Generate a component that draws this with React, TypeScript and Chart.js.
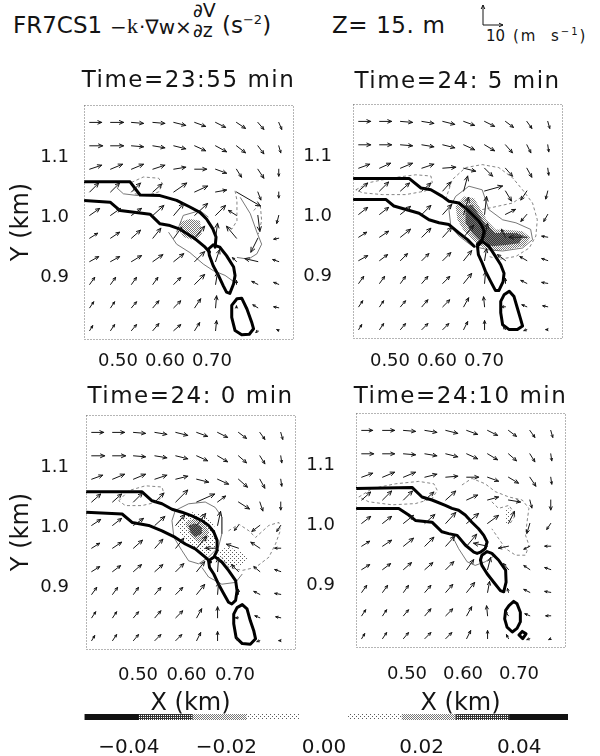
import React, { useEffect, useRef } from "react";
import { Chart, registerables } from "chart.js";

Chart.register(...registerables);

type Pt = [number, number];
type Tone = "light" | "mid" | "dark" | "black";

const SANS = '"DejaVu Sans", sans-serif';
const SERIF = '"Liberation Serif", "DejaVu Serif", serif';
const INK = "#141414";

// plotted domain (km), shared by the four panels
const X_RANGE: Pt = [0.43, 0.87];
const Y_RANGE: Pt = [0.797, 1.187];
const X_TICKS = [0.5, 0.6, 0.7];
const Y_TICKS = [0.9, 1.0, 1.1];

// wind vector grid (km), vectors start at these points
const GRID_X = [0.442, 0.486, 0.53, 0.575, 0.619, 0.663, 0.707, 0.751, 0.796, 0.84];
const GRID_Y = [1.158, 1.119, 1.08, 1.042, 1.003, 0.965, 0.926, 0.888, 0.849, 0.811];

// reference vector (m s-1) and vector drawing scale (px per m s-1)
const KEY_SPEED = 10;
const PX_PER_MS = 2;

// colour bar
const CBAR_EDGES = [-0.049, -0.038, -0.027, -0.016, -0.005, 0.005, 0.016, 0.027, 0.038, 0.05];
const CBAR_TONES: (Tone | null)[] = ["black", "dark", "mid", "light", null, "light", "mid", "dark", "black"];
const CBAR_TICKS = [-0.04, -0.02, 0, 0.02, 0.04];

// ---------- Time = 23:55 min ----------
const U_2355 = [
  [6, 6.5, 6, 6, 6, 5.5, 5, 4.5, 3, 1.5],
  [6.5, 6.5, 6, 6, 6, 5.5, 5.5, 4.5, 3, 1],
  [6, 6, 6, 6, 6, 6, 5.5, 2.5, 3, 0],
  [4.5, 4.5, 4.5, 4.5, 6.5, 6.5, 5.5, 12, 1.5, 0],
  [5, 5, 5, 5.5, 5, 6.5, 5, -4, 1, -1],
  [4, 4.5, 4.5, 4, 4, 5, 1, -5, -3.5, -2.5],
  [4.5, 4.5, 5, 5, 5, 5, 2, -2, -6.5, -3],
  [2.5, 2.5, 2.5, 2.5, 3.5, 5, 1, 0, -3, -2.5],
  [2, 2, 2.5, 3, 3.5, 3, 0.5, 0, -2.5, -2.5],
  [1.5, 2, 2.5, 3, 3.5, 2.5, 0.5, 0, -1, -1],
];
const V_2355 = [
  [0, 0, -0.5, -0.5, -1.5, -2, -2.5, -3, -3.5, -3.5],
  [0, 0, -0.5, -1, -1.5, -2.5, -3, -3.5, -4, -3.5],
  [2, 2.5, 2.5, 2, 1, 0, -2, -4, -4.5, -3.5],
  [4.5, 4.5, 4.5, 4, 4.5, 3, 1, -7, -4, -3],
  [3.5, 3.5, 3.5, 5, 6, 6, 5, 2.5, -8, -4],
  [2.5, 3, 4, 5, 5.5, 6, 7.5, 6, -7, -0.5],
  [2.5, 2.5, 3, 3.5, 4, 5, 6, 2, 1.5, 1],
  [3.5, 3.5, 3.5, 3.5, 3.5, 5, 6, 2, 1.5, 1],
  [3, 3, 3, 3.5, 3.5, 4.5, 6, 1, 1.5, 0.5],
  [2.5, 3, 3, 3.5, 3, 4, 5, 0, -1, 0.5],
];
const THICK_2355_UPPER: Pt[] = [[0.43, 1.059], [0.527, 1.059], [0.548, 1.037], [0.59, 1.036], [0.625, 1.028], [0.653, 1.017], [0.674, 1.008], [0.688, 0.997], [0.701, 0.981], [0.708, 0.967], [0.706, 0.95]];
const THICK_2355_LOWER: Pt[] = [[0.43, 1.028], [0.485, 1.025], [0.506, 1.011], [0.569, 1.005], [0.59, 0.989], [0.611, 0.986], [0.632, 0.98], [0.664, 0.964], [0.685, 0.95], [0.694, 0.942]];
const THICK_2355_CELL: Pt[] = [[0.692, 0.947], [0.702, 0.954], [0.716, 0.95], [0.73, 0.936], [0.745, 0.917], [0.748, 0.903], [0.745, 0.889], [0.737, 0.873], [0.73, 0.875], [0.723, 0.886], [0.713, 0.903], [0.702, 0.919], [0.694, 0.936], [0.692, 0.947]];
const THICK_2355_ISLE: Pt[] = [[0.752, 0.864], [0.762, 0.865], [0.773, 0.847], [0.783, 0.825], [0.787, 0.814], [0.778, 0.805], [0.762, 0.804], [0.748, 0.811], [0.741, 0.833], [0.741, 0.853], [0.752, 0.864]];
const THIN_2355_A: Pt[] = [[0.499, 1.049], [0.513, 1.039], [0.544, 1.036]];
const THIN_2355_B: Pt[] = [[0.608, 0.975], [0.625, 0.955], [0.653, 0.941], [0.681, 0.922], [0.702, 0.911], [0.727, 0.903], [0.748, 0.891]];
const THIN_2355_C: Pt[] = [[0.625, 0.975], [0.639, 1.003], [0.674, 1.011], [0.692, 1.0]];
const THIN_2355_D: Pt[] = [[0.759, 1.033], [0.78, 1.006], [0.794, 0.975], [0.804, 0.955], [0.794, 0.939], [0.776, 0.93], [0.752, 0.933]];
const DASH_2355_A: Pt[] = [[0.53, 1.058], [0.555, 1.067], [0.587, 1.065], [0.596, 1.055], [0.587, 1.042], [0.562, 1.036], [0.537, 1.039], [0.53, 1.058]];
const DASH_2355_B: Pt[] = [[0.748, 1.044], [0.752, 1.028], [0.752, 0.994], [0.741, 0.98], [0.73, 0.983]];
const DASH_2355_C: Pt[] = [[0.787, 1.011], [0.801, 1.022], [0.804, 0.994], [0.797, 0.972]];
const SHADE_2355: Pt[] = [[0.632, 0.992], [0.653, 0.997], [0.674, 0.994], [0.678, 0.972], [0.664, 0.961], [0.639, 0.967], [0.632, 0.978], [0.632, 0.992]];

// ---------- Time = 24: 5 min ----------
const U_2405 = [
  [6, 6, 6, 6, 6, 5.5, 5, 4, 2.5, 1],
  [6, 6, 6, 6, 6, 5.5, 5, 3.5, 2, 0.5],
  [5.5, 5.5, 6, 6, 6.5, 6, 4, 3.5, 2.5, 0.5],
  [4.5, 4.5, 4.5, 4.5, 4, 2, 9, 3, -3, -1],
  [4.5, 4.5, 5, 4.5, 4.5, 2.5, 1, 5, -3, -2],
  [4, 4.5, 5, 4.5, 4.5, 5, 1.5, -2, -9, -3],
  [4.5, 4, 3.5, 3.5, 4, 4, 1, -4, -3.5, -3],
  [2.5, 2.5, 2.5, 3, 3.5, 4, 0.5, 0, -3, -3],
  [2, 2, 2.5, 3, 3.5, 2.5, -0.5, -2, -2.5, -2.5],
  [1.5, 2, 2.5, 3, 3, 2, 0, -1, -1.5, -1],
];
const V_2405 = [
  [0, 0, -0.5, -1, -1.5, -2, -2.5, -3, -3.5, -3.5],
  [0, 0, -0.5, -1, -1.5, -2.5, -3, -4, -4, -3.5],
  [2, 2.5, 2.5, 2, 0.5, -1.5, -4, -4, -4.5, -3.5],
  [4, 4.5, 4, 4, 4.5, 7.5, 2.5, -5, -4.5, -4],
  [3.5, 3.5, 4, 4.5, 5, 8.5, 9, 2.5, -3.5, -3.5],
  [2.5, 3, 4, 4.5, 5, 6, 7, 4, 0, 0.5],
  [2.5, 3, 3.5, 3.5, 4, 5, 6, 3, 2, 1],
  [3.5, 3.5, 3.5, 3.5, 3.5, 5, 6, 2.5, 1.5, 0.5],
  [3, 3, 3, 3.5, 3.5, 4.5, 5, 0, 1, 0.5],
  [2.5, 3, 3, 3, 3, 4, 4.5, 1.5, -0.5, 0],
];
const THICK_2405_UPPER: Pt[] = [[0.43, 1.063], [0.548, 1.063], [0.573, 1.047], [0.594, 1.044], [0.618, 1.033], [0.632, 1.025], [0.653, 1.022], [0.671, 1.011], [0.685, 1.0], [0.695, 0.992], [0.702, 0.983], [0.706, 0.975], [0.702, 0.961], [0.692, 0.953]];
const THICK_2405_LOWER: Pt[] = [[0.43, 1.028], [0.499, 1.028], [0.516, 1.017], [0.569, 1.005], [0.59, 0.994], [0.611, 0.989], [0.632, 0.986], [0.653, 0.972], [0.671, 0.961], [0.685, 0.95]];
const THICK_2405_CELL: Pt[] = [[0.692, 0.95], [0.702, 0.958], [0.716, 0.95], [0.73, 0.933], [0.741, 0.919], [0.748, 0.905], [0.746, 0.891], [0.737, 0.876], [0.73, 0.876], [0.72, 0.891], [0.709, 0.908], [0.702, 0.922], [0.694, 0.936], [0.692, 0.95]];
const THICK_2405_ISLE: Pt[] = [[0.748, 0.869], [0.759, 0.875], [0.769, 0.866], [0.776, 0.847], [0.783, 0.828], [0.787, 0.817], [0.776, 0.811], [0.759, 0.811], [0.745, 0.819], [0.741, 0.839], [0.741, 0.858], [0.748, 0.869]];
const THIN_2405_A: Pt[] = [[0.632, 1.011], [0.646, 1.033], [0.674, 1.05], [0.702, 1.044], [0.716, 1.011], [0.745, 0.994], [0.773, 0.989], [0.804, 0.978], [0.808, 0.961], [0.787, 0.947], [0.745, 0.942], [0.716, 0.944], [0.681, 0.95], [0.653, 0.967], [0.636, 0.983], [0.632, 1.011]];
const DASH_2405_A: Pt[] = [[0.436, 1.044], [0.464, 1.056], [0.513, 1.064], [0.562, 1.069], [0.594, 1.067], [0.597, 1.056], [0.583, 1.042], [0.541, 1.036], [0.492, 1.036], [0.45, 1.039], [0.436, 1.044]];
const DASH_2405_B: Pt[] = [[0.625, 1.028], [0.639, 1.061], [0.667, 1.081], [0.702, 1.086], [0.737, 1.081], [0.766, 1.064], [0.787, 1.044], [0.808, 1.022], [0.818, 0.994], [0.815, 0.967], [0.801, 0.947], [0.773, 0.933], [0.737, 0.928], [0.716, 0.933]];
const DASH_2405_C: Pt[] = [[0.702, 1.011], [0.737, 1.017], [0.766, 1.022], [0.787, 1.033]];
const SHADE_2405_OUTER: Pt[] = [[0.646, 1.017], [0.664, 1.033], [0.685, 1.03], [0.699, 1.011], [0.713, 0.992], [0.73, 0.978], [0.759, 0.977], [0.787, 0.975], [0.804, 0.964], [0.79, 0.95], [0.759, 0.945], [0.73, 0.942], [0.706, 0.947], [0.685, 0.958], [0.664, 0.975], [0.65, 0.994], [0.646, 1.017]];
const SHADE_2405_INNER: Pt[] = [[0.667, 1.017], [0.681, 1.019], [0.695, 1.003], [0.709, 0.986], [0.73, 0.972], [0.766, 0.972], [0.787, 0.967], [0.78, 0.955], [0.752, 0.952], [0.723, 0.95], [0.702, 0.955], [0.681, 0.972], [0.667, 0.989], [0.667, 1.017]];
const SHADE_2405_CORE_A: Pt[] = [[0.681, 1.0], [0.692, 1.003], [0.702, 0.989], [0.706, 0.975], [0.695, 0.972], [0.685, 0.983], [0.681, 1.0]];
const SHADE_2405_CORE_B: Pt[] = [[0.759, 0.969], [0.773, 0.972], [0.79, 0.967], [0.776, 0.96], [0.759, 0.961], [0.759, 0.969]];

// ---------- Time = 24: 0 min ----------
const U_2400 = [
  [6, 6, 6, 6, 6, 5.5, 5, 4, 2.5, 1],
  [6.5, 6.5, 6, 6, 6, 5.5, 5, 4, 2.5, 0.5],
  [5.5, 6, 6, 6, 6, 6, 5.5, 4.5, 2.5, 0.5],
  [4.5, 4.5, 4.5, 4.5, 6, 9, 4, 5.5, 1.5, 0],
  [4.5, 4.5, 5, 5, 4.5, 4.5, 1.5, -2, -4, -2],
  [4, 4.5, 4.5, 4, 4, 5, -6, -6, -4.5, -3],
  [4, 4, 4, 4, 4, 4, 0.5, -3.5, -3, -3],
  [2.5, 2.5, 2.5, 3, 3.5, 4, 0.5, 0, -3, -3],
  [2, 2, 2.5, 3, 3.5, 2.5, 0, -1.5, -2.5, -2.5],
  [1.5, 2, 2.5, 3, 3, 2, 0, -1, -1.5, -1],
];
const V_2400 = [
  [0, 0, -0.5, -1, -1.5, -2, -2.5, -3, -3.5, -3.5],
  [0, 0, -0.5, -1, -1.5, -2.5, -3, -3.5, -4, -3.5],
  [2, 2.5, 2.5, 2, 1.5, -1.5, -2.5, -4, -4.5, -3.5],
  [4, 4, 4.5, 4.5, 6, 4, 3, -3.5, -4.5, -4],
  [3, 3.5, 3.5, 4.5, 5.5, 6, 7, -2.5, -3, -3],
  [2.5, 3, 4, 4.5, 5, 6, 0, 2, 3, 0],
  [2.5, 3, 3.5, 3.5, 4, 5, 7, 3.5, 2.5, 1],
  [3.5, 3.5, 3.5, 3.5, 3.5, 5, 6, 2.5, 1.5, 0.5],
  [3, 3, 3, 3.5, 3.5, 4.5, 5.5, 0, 1, 0.5],
  [2.5, 3, 3, 3, 3, 4, 4.5, 1.5, -0.5, 0],
];
const THICK_2400_UPPER: Pt[] = [[0.43, 1.059], [0.548, 1.059], [0.569, 1.044], [0.59, 1.039], [0.611, 1.03], [0.632, 1.025], [0.653, 1.019], [0.674, 1.011], [0.688, 1.003], [0.699, 0.992], [0.706, 0.978], [0.706, 0.961], [0.701, 0.953]];
const THICK_2400_LOWER: Pt[] = [[0.43, 1.025], [0.506, 1.022], [0.527, 1.008], [0.562, 1.003], [0.59, 0.994], [0.618, 0.983], [0.639, 0.972], [0.66, 0.964], [0.681, 0.95], [0.692, 0.942]];
const THICK_2400_CELL: Pt[] = [[0.688, 0.944], [0.701, 0.951], [0.716, 0.942], [0.73, 0.928], [0.745, 0.911], [0.748, 0.894], [0.745, 0.878], [0.737, 0.872], [0.73, 0.875], [0.72, 0.889], [0.709, 0.905], [0.699, 0.922], [0.69, 0.933], [0.688, 0.944]];
const THICK_2400_ISLE: Pt[] = [[0.748, 0.866], [0.759, 0.871], [0.769, 0.864], [0.776, 0.844], [0.783, 0.828], [0.787, 0.814], [0.776, 0.805], [0.759, 0.806], [0.746, 0.816], [0.741, 0.839], [0.741, 0.855], [0.748, 0.866]];
const THIN_2400_A: Pt[] = [[0.611, 1.011], [0.618, 1.028], [0.646, 1.039], [0.681, 1.042], [0.702, 1.033], [0.716, 1.017], [0.716, 0.989], [0.709, 0.967], [0.688, 0.95], [0.667, 0.939], [0.646, 0.944], [0.632, 0.961], [0.615, 0.983], [0.611, 1.011]];
const THIN_2400_B: Pt[] = [[0.674, 0.933], [0.688, 0.917], [0.716, 0.905], [0.745, 0.908], [0.759, 0.922]];
const DASH_2400_A: Pt[] = [[0.499, 1.044], [0.52, 1.061], [0.555, 1.069], [0.59, 1.067], [0.594, 1.056], [0.58, 1.042], [0.548, 1.036], [0.513, 1.036], [0.499, 1.044]];
const DASH_2400_B: Pt[] = [[0.73, 0.994], [0.752, 1.005], [0.773, 0.994], [0.787, 0.983], [0.815, 1.003], [0.836, 1.008], [0.839, 0.994], [0.829, 0.972], [0.815, 0.95], [0.787, 0.933], [0.759, 0.928], [0.73, 0.933], [0.716, 0.95]];
const SHADE_2400_OUTER: Pt[] = [[0.622, 1.005], [0.632, 1.019], [0.653, 1.025], [0.678, 1.022], [0.699, 1.005], [0.706, 0.983], [0.702, 0.964], [0.688, 0.953], [0.667, 0.958], [0.646, 0.972], [0.629, 0.986], [0.622, 1.005]];
const SHADE_2400_INNER: Pt[] = [[0.639, 1.008], [0.657, 1.014], [0.678, 1.008], [0.688, 0.994], [0.685, 0.978], [0.667, 0.975], [0.65, 0.986], [0.639, 1.008]];
const SHADE_2400_CORE: Pt[] = [[0.646, 1.003], [0.66, 1.006], [0.674, 1.0], [0.674, 0.989], [0.66, 0.984], [0.65, 0.992], [0.646, 1.003]];
const SHADE_2400_EAST: Pt[] = [[0.706, 0.961], [0.73, 0.967], [0.759, 0.958], [0.773, 0.947], [0.759, 0.936], [0.734, 0.933], [0.716, 0.942], [0.706, 0.961]];

// ---------- Time = 24:10 min ----------
const U_2410 = [
  [5.5, 6, 6, 6, 6, 5.5, 5, 4, 2.5, 1],
  [6, 6, 6, 6, 6, 5.5, 5, 4, 2.5, 0.5],
  [5.5, 6, 6, 6, 6, 6, 5.5, 5, 3, 0.5],
  [4.5, 4.5, 4.5, 4.5, 5, 5.5, 5.5, 6, 1, 0],
  [4.5, 4.5, 5, 5, 5, 6, 5.5, 3, -1.5, -2],
  [4, 4.5, 5, 4.5, 4.5, 5, -7, -5, -3, -3],
  [4, 4, 4, 4, 4, 3.5, 1.5, -2.5, -3, -3],
  [2.5, 2.5, 2.5, 3, 3.5, 4, 1, -0.5, -3, -3],
  [2, 2, 2.5, 3, 3.5, 2.5, -0.5, -1.5, -2.5, -2.5],
  [1.5, 2, 2.5, 3, 3, 2, 0, -1, -1.5, -1],
];
const V_2410 = [
  [0, 0, -0.5, -1, -1.5, -2, -2.5, -3, -3.5, -3.5],
  [0, 0, -0.5, -1, -1.5, -2.5, -3, -3.5, -4, -3.5],
  [2, 2.5, 2.5, 1.5, 0.5, 0, -2, -3, -4.5, -3.5],
  [4, 4.5, 4.5, 4, 4.5, 2.5, 1.5, -1, -4, -5],
  [3.5, 3.5, 4, 4.5, 5.5, 5, 4, 6, -5, -3],
  [2.5, 3, 4, 4.5, 5, 6, 1.5, -1, -1.5, 0],
  [2.5, 3, 3.5, 3.5, 4, 5, 6, 3, 2, 1],
  [3.5, 3.5, 3.5, 3.5, 4, 5, 5.5, 2, 1.5, 0.5],
  [3, 3, 3, 3.5, 3.5, 4.5, 5, 2, 1, 0],
  [2.5, 3, 3, 3, 3, 4, 4, 2, -0.5, -0.5],
];
const THICK_2410_BAND: Pt[] = [[0.43, 1.061], [0.548, 1.063], [0.569, 1.047], [0.59, 1.042], [0.618, 1.033], [0.632, 1.028], [0.646, 1.025], [0.66, 1.017], [0.674, 1.005], [0.688, 0.994], [0.699, 0.983], [0.706, 0.972], [0.702, 0.961], [0.692, 0.955], [0.685, 0.953], [0.678, 0.955], [0.66, 0.967], [0.643, 0.983], [0.625, 0.986], [0.611, 0.989], [0.59, 1.005], [0.555, 1.008], [0.541, 1.017], [0.52, 1.028], [0.43, 1.028]];
const THICK_2410_CELL: Pt[] = [[0.695, 0.95], [0.706, 0.956], [0.716, 0.953], [0.73, 0.942], [0.745, 0.925], [0.746, 0.905], [0.741, 0.889], [0.734, 0.891], [0.72, 0.905], [0.706, 0.919], [0.695, 0.933], [0.692, 0.942], [0.695, 0.95]];
const THICK_2410_ISLE: Pt[] = [[0.752, 0.866], [0.762, 0.873], [0.769, 0.869], [0.776, 0.855], [0.776, 0.839], [0.769, 0.828], [0.759, 0.822], [0.748, 0.83], [0.743, 0.844], [0.745, 0.858], [0.752, 0.866]];
const THICK_2410_DOT: Pt[] = [[0.773, 0.817], [0.78, 0.823], [0.788, 0.819], [0.781, 0.811], [0.773, 0.817]];
const THIN_2410_A: Pt[] = [[0.632, 0.983], [0.646, 0.961], [0.664, 0.939], [0.681, 0.933], [0.702, 0.939], [0.723, 0.95]];
const DASH_2410_A: Pt[] = [[0.436, 1.047], [0.464, 1.061], [0.513, 1.069], [0.562, 1.073], [0.594, 1.069], [0.601, 1.058], [0.59, 1.044], [0.555, 1.036], [0.506, 1.034], [0.457, 1.039], [0.436, 1.047]];
const DASH_2410_B: Pt[] = [[0.653, 1.067], [0.674, 1.078], [0.702, 1.069], [0.723, 1.056], [0.752, 1.047], [0.78, 1.042], [0.794, 1.028], [0.79, 1.005], [0.787, 0.983], [0.794, 0.967], [0.787, 0.95], [0.766, 0.95], [0.745, 0.961], [0.73, 0.978], [0.716, 0.994]];
const DASH_2410_C: Pt[] = [[0.716, 1.039], [0.73, 1.028], [0.752, 1.033], [0.766, 1.017], [0.752, 1.0]];
const SHADE_2410: Pt[] = [[0.746, 1.028], [0.755, 1.028], [0.755, 1.003], [0.746, 1.003], [0.746, 1.028]];

interface PanelSpec {
  title: string;
  u: number[][];
  v: number[][];
  thick: Pt[][];
  thin: Pt[][];
  dashed: Pt[][];
  shade: { pts: Pt[]; tone: Tone }[];
  tickRange: Pt;
  left: number;
  top: number;
  width: number;
  height: number;
  yw: number;
  padRight: number;
  padTop: number;
  xh: number;
  ypad: number;
  xpad: number;
  titleGap: number;
  yTitle: boolean;
  xTitle: boolean;
}

const PANELS: PanelSpec[] = [
  {
    title: "Time=23:55 min",
    u: U_2355, v: V_2355,
    thick: [THICK_2355_UPPER, THICK_2355_LOWER, THICK_2355_CELL, THICK_2355_ISLE],
    thin: [THIN_2355_A, THIN_2355_B, THIN_2355_C, THIN_2355_D],
    dashed: [DASH_2355_A, DASH_2355_B, DASH_2355_C],
    shade: [{ pts: SHADE_2355, tone: "mid" }],
    tickRange: [0.4277, 0.8724],
    left: 0, top: 60, width: 300, height: 320,
    yw: 84, padRight: 7, padTop: 45, xh: 41, ypad: 7, xpad: 4, titleGap: 18,
    yTitle: true, xTitle: false,
  },
  {
    title: "Time=24: 5 min",
    u: U_2405, v: V_2405,
    thick: [THICK_2405_UPPER, THICK_2405_LOWER, THICK_2405_CELL, THICK_2405_ISLE],
    thin: [THIN_2405_A],
    dashed: [DASH_2405_A, DASH_2405_B, DASH_2405_C],
    shade: [
      { pts: SHADE_2405_OUTER, tone: "mid" },
      { pts: SHADE_2405_INNER, tone: "dark" },
      { pts: SHADE_2405_CORE_A, tone: "black" },
      { pts: SHADE_2405_CORE_B, tone: "black" },
    ],
    tickRange: [0.4213, 0.866],
    left: 300, top: 60, width: 300, height: 320,
    yw: 53, padRight: 38, padTop: 44, xh: 42, ypad: 13, xpad: 5, titleGap: 16,
    yTitle: false, xTitle: false,
  },
  {
    title: "Time=24: 0 min",
    u: U_2400, v: V_2400,
    thick: [THICK_2400_UPPER, THICK_2400_LOWER, THICK_2400_CELL, THICK_2400_ISLE],
    thin: [THIN_2400_A, THIN_2400_B],
    dashed: [DASH_2400_A, DASH_2400_B],
    shade: [
      { pts: SHADE_2400_OUTER, tone: "light" },
      { pts: SHADE_2400_INNER, tone: "mid" },
      { pts: SHADE_2400_CORE, tone: "dark" },
      { pts: SHADE_2400_EAST, tone: "light" },
    ],
    tickRange: [0.3928, 0.8237],
    left: 0, top: 380, width: 300, height: 336,
    yw: 86, padRight: 5, padTop: 35, xh: 67, ypad: 9, xpad: 8, titleGap: 12,
    yTitle: true, xTitle: true,
  },
  {
    title: "Time=24:10 min",
    u: U_2410, v: V_2410,
    thick: [THICK_2410_BAND, THICK_2410_CELL, THICK_2410_ISLE, THICK_2410_DOT],
    thin: [THIN_2410_A],
    dashed: [DASH_2410_A, DASH_2410_B, DASH_2410_C],
    shade: [{ pts: SHADE_2410, tone: "light" }],
    tickRange: [0.4089, 0.7821],
    left: 300, top: 380, width: 300, height: 336,
    yw: 56, padRight: 35, padTop: 33, xh: 69, ypad: 13, xpad: 9, titleGap: 10,
    yTitle: false, xTitle: true,
  },
];

const TICK_FONT = { family: SANS, size: 18 };
const AXIS_TITLE_FONT = { family: SANS, size: 24, lineHeight: 1 };

function makePatterns(): Record<Tone, CanvasPattern | string> {
  const build = (mask: string[], ink: string): CanvasPattern | string => {
    const tile = document.createElement("canvas");
    tile.width = mask[0].length;
    tile.height = mask.length;
    const c = tile.getContext("2d");
    if (!c) return ink;
    c.fillStyle = ink;
    mask.forEach((row, y) => {
      for (let x = 0; x < row.length; x++) if (row[x] === "#") c.fillRect(x, y, 1, 1);
    });
    return c.createPattern(tile, "repeat") || ink;
  };
  return {
    light: build(["#...", "....", "..#.", "...."], "#5a5a5a"),
    mid: build(["#.", ".#"], "#777777"),
    dark: build(["##", "#."], "#333333"),
    black: "#111111",
  };
}

const toXY = (p: Pt) => ({ x: p[0], y: p[1] });

function Panel({ spec }: { spec: PanelSpec }) {
  const ref = useRef<HTMLCanvasElement>(null);

  useEffect(() => {
    const canvas = ref.current;
    if (!canvas) return;
    const pats = makePatterns();
    const datasets: any[] = [];
    spec.shade.forEach((s) =>
      datasets.push({
        type: "line", data: s.pts.map(toXY), fill: "shape", backgroundColor: pats[s.tone],
        borderColor: "rgba(0,0,0,0)", borderWidth: 1, pointRadius: 0, tension: 0, order: 6,
      })
    );
    spec.thin.forEach((c) =>
      datasets.push({
        type: "line", data: c.map(toXY), fill: false, borderColor: "#555555",
        borderWidth: 0.8, pointRadius: 0, tension: 0, order: 5,
      })
    );
    spec.dashed.forEach((c) =>
      datasets.push({
        type: "line", data: c.map(toXY), fill: false, borderColor: "#666666", borderDash: [3, 2.5],
        borderWidth: 0.8, pointRadius: 0, tension: 0, order: 4,
      })
    );
    spec.thick.forEach((c) =>
      datasets.push({
        type: "line", data: c.map(toXY), fill: false, borderColor: "#000000", borderWidth: 3,
        borderJoinStyle: "round", borderCapStyle: "round", pointRadius: 0, tension: 0, order: 2,
      })
    );
    const vectors: { x: number; y: number; u: number; v: number }[] = [];
    GRID_Y.forEach((y, r) => GRID_X.forEach((x, c) => vectors.push({ x, y, u: spec.u[r][c], v: spec.v[r][c] })));
    datasets.push({ type: "scatter", data: vectors, pointRadius: 0, quiver: true, order: 1 });

    const quiver = {
      id: "quiver",
      afterDatasetsDraw(chart: any) {
        const ctx: CanvasRenderingContext2D = chart.ctx;
        ctx.save();
        ctx.strokeStyle = INK;
        ctx.lineWidth = 1;
        ctx.lineCap = "round";
        chart.data.datasets.forEach((ds: any, i: number) => {
          if (!ds.quiver) return;
          const meta = chart.getDatasetMeta(i);
          meta.data.forEach((el: any, j: number) => {
            const d = ds.data[j];
            const dx = d.u * PX_PER_MS;
            const dy = -d.v * PX_PER_MS;
            const len = Math.hypot(dx, dy);
            if (len < 0.8) return;
            const x0 = el.x, y0 = el.y;
            const x1 = x0 + dx, y1 = y0 + dy;
            const a = Math.atan2(dy, dx);
            const h = Math.min(5, Math.max(2.5, len * 0.35));
            ctx.beginPath();
            ctx.moveTo(x0, y0);
            ctx.lineTo(x1, y1);
            ctx.moveTo(x1 - h * Math.cos(a - 0.42), y1 - h * Math.sin(a - 0.42));
            ctx.lineTo(x1, y1);
            ctx.lineTo(x1 - h * Math.cos(a + 0.42), y1 - h * Math.sin(a + 0.42));
            ctx.stroke();
          });
        });
        ctx.restore();
      },
    };

    const frame = {
      id: "frame",
      afterDraw(chart: any) {
        const { ctx, chartArea: a } = chart;
        ctx.save();
        ctx.strokeStyle = "#6b6b6b";
        ctx.lineWidth = 1;
        ctx.setLineDash([1, 2]);
        ctx.strokeRect(Math.round(a.left) + 0.5, Math.round(a.top) + 0.5, Math.round(a.right - a.left), Math.round(a.bottom - a.top));
        ctx.setLineDash([]);
        ctx.font = `23px ${SANS}`;
        try { (ctx as any).letterSpacing = "1.5px"; } catch (e) { /* older canvas */ }
        ctx.fillStyle = INK;
        ctx.textAlign = "center";
        ctx.textBaseline = "alphabetic";
        ctx.fillText(spec.title, (a.left + a.right) / 2, a.top - spec.titleGap);
        ctx.restore();
      },
    };

    const chart = new Chart(canvas, {
      type: "scatter",
      data: { datasets },
      plugins: [quiver, frame],
      options: {
        animation: false,
        responsive: false,
        events: [],
        layout: { padding: { left: 0, right: spec.padRight, top: spec.padTop, bottom: 0 }, autoPadding: false },
        plugins: { legend: { display: false }, tooltip: { enabled: false } },
        scales: {
          x: { type: "linear", min: X_RANGE[0], max: X_RANGE[1], display: false },
          xt: {
            type: "linear", position: "bottom", min: spec.tickRange[0], max: spec.tickRange[1],
            grid: { display: false }, border: { display: false },
            afterBuildTicks: (s: any) => { s.ticks = X_TICKS.map((value) => ({ value })); },
            afterFit: (s: any) => { s.height = spec.xh; },
            ticks: { padding: spec.xpad, font: TICK_FONT, color: INK, maxRotation: 0, autoSkip: false, callback: (v: any) => Number(v).toFixed(2) },
            title: { display: spec.xTitle, text: "X (km)", font: AXIS_TITLE_FONT, color: INK, padding: { top: 0, bottom: 0 } },
          },
          y: {
            type: "linear", min: Y_RANGE[0], max: Y_RANGE[1],
            grid: { display: false }, border: { display: false },
            afterBuildTicks: (s: any) => { s.ticks = Y_TICKS.map((value) => ({ value })); },
            afterFit: (s: any) => { s.width = spec.yw; },
            ticks: { padding: spec.ypad, font: TICK_FONT, color: INK, autoSkip: false, callback: (v: any) => Number(v).toFixed(1) },
            title: { display: spec.yTitle, text: "Y (km)", font: AXIS_TITLE_FONT, color: INK, padding: { top: 10, bottom: 0 } },
          },
        },
      } as any,
    });
    return () => chart.destroy();
  }, [spec]);

  return (
    <canvas
      ref={ref}
      width={spec.width}
      height={spec.height}
      style={{ position: "absolute", left: spec.left, top: spec.top, width: spec.width, height: spec.height }}
    />
  );
}

function ColorBar() {
  const ref = useRef<HTMLCanvasElement>(null);
  useEffect(() => {
    const canvas = ref.current;
    if (!canvas) return;
    const pats = makePatterns();
    const datasets: any[] = [];
    CBAR_TONES.forEach((tone, i) => {
      if (!tone) return;
      datasets.push({
        data: [[CBAR_EDGES[i], CBAR_EDGES[i + 1]]], backgroundColor: pats[tone], borderWidth: 0,
        barPercentage: 1, categoryPercentage: 1, grouped: false,
      });
    });
    const chart = new Chart(canvas, {
      type: "bar",
      data: { labels: [""], datasets },
      options: {
        indexAxis: "y",
        animation: false,
        responsive: false,
        events: [],
        layout: { padding: { left: 80, right: 32, top: 14, bottom: 0 }, autoPadding: false },
        plugins: { legend: { display: false }, tooltip: { enabled: false } },
        scales: {
          y: { display: false },
          x: {
            type: "linear", min: -0.05, max: 0.05,
            grid: { display: false }, border: { display: false },
            afterBuildTicks: (s: any) => { s.ticks = CBAR_TICKS.map((value) => ({ value })); },
            afterFit: (s: any) => { s.height = 36; },
            ticks: {
              padding: 8, font: { family: SANS, size: 20 }, color: INK, maxRotation: 0, autoSkip: false,
              callback: (v: any) => (Number(v) < -1e-9 ? "\u2212" : "") + Math.abs(Number(v)).toFixed(2),
            },
          },
        },
      } as any,
    });
    return () => chart.destroy();
  }, []);
  return <canvas ref={ref} width={600} height={56} style={{ position: "absolute", left: 0, top: 700, width: 600, height: 56 }} />;
}

function Txt(props: { x: number; base: number; size: number; family?: string; spacing?: number; children: React.ReactNode }) {
  return (
    <span
      style={{
        position: "absolute", left: props.x, top: props.base - 0.85 * props.size,
        fontSize: props.size, lineHeight: `${props.size}px`, fontFamily: props.family ?? SANS,
        letterSpacing: props.spacing ?? 0, whiteSpace: "pre", color: INK,
      }}
    >
      {props.children}
    </span>
  );
}

function Header() {
  const keyLen = KEY_SPEED * PX_PER_MS;
  const ox = 483, oy = 25, h = 4;
  return (
    <>
      <Txt x={13} base={34} size={23}>FR7CS1</Txt>
      <Txt x={110} base={34} size={20}>−</Txt>
      <Txt x={127} base={34} size={22} family={SERIF}>k</Txt>
      <Txt x={139} base={34} size={20}>·∇w×</Txt>
      <Txt x={193} base={17} size={19}>∂V</Txt>
      <Txt x={193} base={37} size={19}>∂z</Txt>
      <Txt x={222} base={34} size={23}>
        (s<span style={{ fontSize: 13, position: "relative", top: -9 }}>−2</span>)
      </Txt>
      <Txt x={332} base={34} size={23} spacing={0.6}>Z= 15. m</Txt>
      <svg width={600} height={60} style={{ position: "absolute", left: 0, top: 0 }}>
        <path
          d={`M${ox} ${oy - keyLen} L${ox} ${oy} L${ox + keyLen} ${oy}
              M${ox - h * 0.45} ${oy - keyLen + h} L${ox} ${oy - keyLen} L${ox + h * 0.45} ${oy - keyLen + h}
              M${ox + keyLen - h} ${oy - h * 0.45} L${ox + keyLen} ${oy} L${ox + keyLen - h} ${oy + h * 0.45}`}
          stroke={INK} strokeWidth={1} fill="none"
        />
      </svg>
      <Txt x={486} base={42} size={15}>10</Txt>
      <Txt x={513} base={42} size={15} spacing={2}>
        (m  s<span style={{ fontSize: 10, position: "relative", top: -6 }}>−1</span>)
      </Txt>
    </>
  );
}

export default function App() {
  return (
    <div
      style={{
        position: "absolute", left: 0, top: 0, width: 600, height: 756,
        background: "#ffffff", overflow: "hidden", fontFamily: SANS, color: INK,
      }}
    >
      <Header />
      {PANELS.map((p) => (
        <Panel key={p.title} spec={p} />
      ))}
      <ColorBar />
    </div>
  );
}
